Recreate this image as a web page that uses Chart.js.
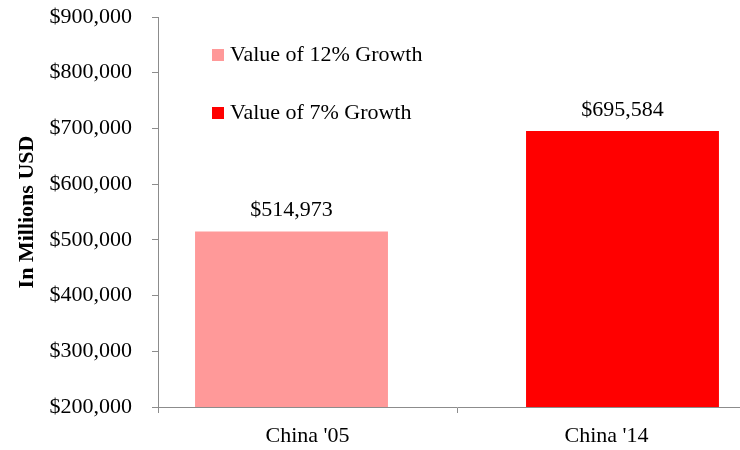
<!DOCTYPE html>
<html>
<head>
<meta charset="utf-8">
<script src="https://cdn.jsdelivr.net/npm/chart.js@4.4.0/dist/chart.umd.min.js"></script>
<style>
  html, body { margin: 0; padding: 0; background: #fff; overflow: hidden; }
  #wrap { width: 760px; height: 450px; }
</style>
</head>
<body>
<div id="wrap"><canvas id="growth" width="760" height="450"></canvas></div>
<script>
// values in millions of USD
var categories = ["China '05", "China '14"];
var seriesNames = ['Value of 12% Growth', 'Value of 7% Growth'];
var seriesValues = [514973, 695584];
var barColors = ['#FF9999', '#FF0000'];

var FONT = "'Liberation Serif', 'Times New Roman', serif";
var AXIS_GREY = '#8c8c8c';

function money(v) {
  return '$' + Number(v).toLocaleString('en-US');
}

// one dataset per series, each only filled in its own category
var datasets = [];
for (var i = 0; i < seriesNames.length; i++) {
  var d = [];
  for (var j = 0; j < categories.length; j++) {
    d.push(i == j ? seriesValues[i] : null);
  }
  datasets.push({
    label: seriesNames[i],
    data: d,
    backgroundColor: barColors[i],
    borderWidth: 0,
    categoryPercentage: 0.214,
    barPercentage: 6.03
  });
}

// value above each bar
var valueLabels = {
  id: 'valueLabels',
  afterDatasetsDraw: function (chart) {
    var ctx = chart.ctx;
    ctx.save();
    ctx.font = '22px ' + FONT;
    ctx.fillStyle = '#000';
    ctx.textAlign = 'center';
    ctx.textBaseline = 'middle';
    chart.data.datasets.forEach(function (ds, i) {
      var meta = chart.getDatasetMeta(i);
      meta.data.forEach(function (bar, j) {
        if (ds.data[j] == null) return;
        ctx.fillText(money(ds.data[j]), bar.x, bar.y - 21);
      });
    });
    ctx.restore();
  }
};

// legend sitting inside the plot, top left
var innerLegend = {
  id: 'innerLegend',
  afterDraw: function (chart) {
    var ctx = chart.ctx;
    var area = chart.chartArea;
    ctx.save();
    ctx.font = '22px ' + FONT;
    ctx.textBaseline = 'middle';
    chart.data.datasets.forEach(function (ds, i) {
      var x = area.left + 54;
      var y = area.top + 38 + i * 58;
      ctx.fillStyle = ds.backgroundColor;
      ctx.fillRect(x, y - 6, 12, 12);
      ctx.fillStyle = '#000';
      ctx.fillText(ds.label, x + 18, y);
    });
    ctx.restore();
  }
};

new Chart(document.getElementById('growth'), {
  type: 'bar',
  data: { labels: categories, datasets: datasets },
  plugins: [valueLabels, innerLegend],
  options: {
    responsive: false,
    animation: false,
    layout: { padding: { top: 17, right: 4, left: 0, bottom: 0 } },
    plugins: {
      legend: { display: false },
      tooltip: { enabled: false }
    },
    scales: {
      x: {
        offset: true,
        grid: { display: true, drawOnChartArea: false, tickLength: 6, color: AXIS_GREY, offset: true },
        border: { color: AXIS_GREY, width: 1 },
        ticks: { color: '#000', font: { family: FONT, size: 22 }, padding: 10 },
        afterFit: function (scale) { scale.height = 43; }
      },
      y: {
        min: 200000,
        max: 900000,
        grid: { display: true, drawOnChartArea: false, tickLength: 6, color: AXIS_GREY },
        border: { color: AXIS_GREY, width: 1 },
        ticks: {
          stepSize: 100000,
          color: '#000',
          padding: 20,
          font: { family: FONT, size: 22 },
          callback: function (v) { return money(v); }
        },
        title: {
          display: true,
          text: 'In Millions USD',
          color: '#000',
          font: { family: FONT, size: 22, weight: 'bold' },
          padding: { top: 14, bottom: 4 }
        },
        afterFit: function (scale) {
          scale.width = 158;
          scale.paddingTop = 0;
          scale.paddingBottom = 0;
        }
      }
    }
  }
});
</script>
</body>
</html>
